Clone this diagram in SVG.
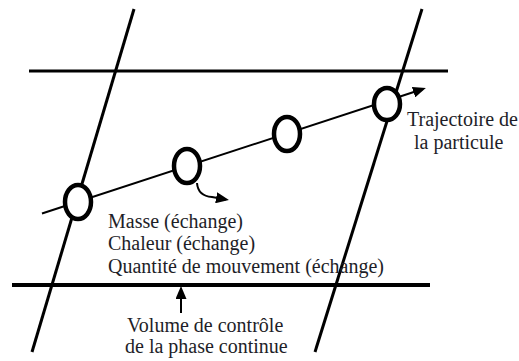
<svg xmlns="http://www.w3.org/2000/svg" width="519" height="361" viewBox="0 0 519 361">
<style>
.ln{stroke:#000;fill:none;stroke-linecap:butt}
.p{fill:#fff;stroke:#000;stroke-width:4.5}
text{font-family:'Liberation Serif','Times New Roman','DejaVu Serif',serif;font-size:20px;fill:#1e1e28}
</style>
<defs>
<marker id="ah" markerWidth="13" markerHeight="11" refX="10" refY="5.5" orient="auto" markerUnits="userSpaceOnUse">
<path d="M0,0 L13,5.5 L0,11 z" fill="#000"/>
</marker>
</defs>
<rect width="519" height="361" fill="#fff"/>
<g id="connectors">
<line class="ln" x1="134" y1="9" x2="32" y2="352" stroke-width="3"/>
<line class="ln" x1="422" y1="9" x2="315" y2="352" stroke-width="3"/>
<line class="ln" x1="29" y1="71" x2="448" y2="71" stroke-width="3"/>
<line class="ln" x1="12" y1="285" x2="430" y2="285" stroke-width="4"/>
<line class="ln" x1="42" y1="213.5" x2="423" y2="89" stroke-width="2" marker-end="url(#ah)"/>
<path class="ln" d="M197,183 Q198,196 212,197 L226,199.5" stroke-width="2" marker-end="url(#ah)"/>
<line class="ln" x1="181" y1="313" x2="181" y2="289" stroke-width="2" marker-end="url(#ah)"/>
</g>
<g id="p1"><ellipse class="p" cx="78" cy="202" rx="13" ry="17"/></g>
<g id="p2"><ellipse class="p" cx="187" cy="166" rx="13" ry="17"/></g>
<g id="p3"><ellipse class="p" cx="287" cy="134" rx="13" ry="17"/></g>
<g id="p4"><ellipse class="p" cx="387" cy="104" rx="13" ry="16"/></g>
<g id="label-trajectoire">
<text x="407" y="126">Trajectoire de</text>
<text x="414" y="149">la particule</text>
</g>
<g id="label-echanges">
<text x="108" y="228">Masse (échange)</text>
<text x="108" y="250">Chaleur (échange)</text>
<text x="108" y="273">Quantité de mouvement (échange)</text>
</g>
<g id="label-volume">
<text x="127" y="332">Volume de contrôle</text>
<text x="125" y="353">de la phase continue</text>
</g>
</svg>
